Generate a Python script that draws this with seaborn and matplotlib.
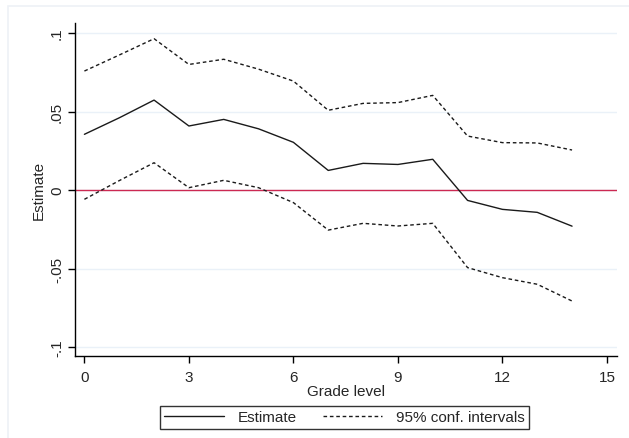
import pandas as pd
import numpy as np
import matplotlib.pyplot as plt
import seaborn as sns
from matplotlib.patches import Rectangle

# Data
grade = [0, 1, 2, 3, 4, 5, 6, 7, 8, 9, 10, 11, 12, 13, 14]
estimate = [0.0355, 0.046, 0.0573, 0.0408, 0.045, 0.039, 0.0304, 0.0125, 0.017,
            0.0163, 0.0196, -0.0066, -0.0123, -0.0142, -0.023]
ci_upper = [0.0758, 0.086, 0.0964, 0.080, 0.0833, 0.077, 0.0694, 0.0508, 0.0552,
            0.0557, 0.0603, 0.0344, 0.0302, 0.030, 0.0255]
ci_lower = [-0.0059, 0.006, 0.0174, 0.0015, 0.0062, 0.0015, -0.008, -0.0255, -0.0212,
            -0.0229, -0.0212, -0.0494, -0.0558, -0.060, -0.0707]

yticks = [-0.1, -0.05, 0, 0.05, 0.1]
ytick_labels = ["-.1", "-.05", "0", ".05", ".1"]
xticks = [0, 3, 6, 9, 12, 15]

df = pd.DataFrame({"grade": grade, "estimate": estimate,
                   "upper": ci_upper, "lower": ci_lower})

sns.set_style("white")
plt.rcParams['font.family'] = ['Liberation Sans', 'DejaVu Sans']
fs = 11

fig = plt.figure(figsize=(6.29, 4.39), dpi=100)
W, H = 629, 439
ax = fig.add_axes([75 / W, 1 - 357 / H, (617 - 75) / W, (357 - 24) / H])

# faint outer frame
fig.patches.append(Rectangle((8 / W, -0.1), 1.2, 1 - 7 / H + 0.1, transform=fig.transFigure,
                             fill=False, edgecolor="#eef1f6", linewidth=1.2))

for yv in yticks:
    ax.axhline(yv, color="#eaf1f8", linewidth=1.0, zorder=0)

ax.axhline(0, color="#cc2952", linewidth=1.0, zorder=1)

sns.lineplot(data=df, x="grade", y="estimate", ax=ax, color="#1a1a1a",
             linewidth=1.0, label="Estimate", zorder=3)
sns.lineplot(data=df, x="grade", y="upper", ax=ax, color="#1a1a1a",
             linewidth=1.0, dashes=False, label="95% conf. intervals", zorder=3)
sns.lineplot(data=df, x="grade", y="lower", ax=ax, color="#1a1a1a",
             linewidth=1.0, zorder=3)
for ln in ax.lines[-2:]:
    ln.set_dashes([2.6, 2.0])

ax.set_xlim(-0.27, 15.29)
ax.set_ylim(-0.1057, 0.1064)
ax.set_xticks(xticks)
ax.set_yticks(yticks)
ax.set_yticklabels(ytick_labels, rotation=90, va="center")
ax.tick_params(axis="both", direction="out", length=5, width=1, color="black",
               labelsize=fs, pad=3, left=True, bottom=True)
ax.tick_params(axis="x", pad=5)

for side in ["top", "right"]:
    ax.spines[side].set_visible(False)
for side in ["left", "bottom"]:
    ax.spines[side].set_color("black")
    ax.spines[side].set_linewidth(1.0)

ax.set_xlabel("Grade level", fontsize=fs, labelpad=0)
ax.set_ylabel("Estimate", fontsize=fs, labelpad=3)

handles, labels = ax.get_legend_handles_labels()
leg = ax.legend(handles[:2], labels[:2], loc="center", ncol=2,
                bbox_to_anchor=((344.5 - 75) / (617 - 75), -(418.5 - 357) / (357 - 24)),
                frameon=True, fancybox=False, edgecolor="black", fontsize=fs,
                handlelength=3.9, columnspacing=1.7, borderpad=0.3, handletextpad=0.9)
leg.get_frame().set_linewidth(1.0)
leg.get_lines()[1].set_dashes([2.6, 2.0])

fig.savefig("out.png", dpi=100)
